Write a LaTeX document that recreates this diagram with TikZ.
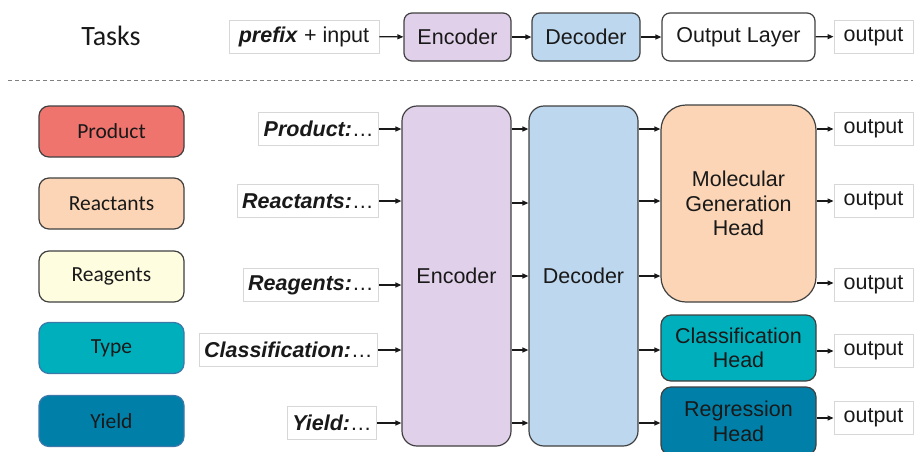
\documentclass[tikz,border=0pt]{standalone}
\usepackage{fontspec}
\setmainfont{Liberation Sans}
\newfontfamily\calib{Carlito}
\usetikzlibrary{arrows.meta,calc}

\definecolor{prodred}{RGB}{240,116,110}
\definecolor{peach}{RGB}{251,213,181}
\definecolor{paleyellow}{RGB}{255,253,224}
\definecolor{tealc}{RGB}{0,175,188}
\definecolor{deepteal}{RGB}{0,128,168}
\definecolor{lavender}{RGB}{225,208,234}
\definecolor{skyblue}{RGB}{189,215,238}
\definecolor{edgegray}{RGB}{64,64,64}
\definecolor{bluedge}{RGB}{60,120,170}
\definecolor{lightedge}{RGB}{215,215,215}

\tikzset{
  x=1pt, y=-1pt,
  txt/.style={font=\fontsize{21.5}{24.5}\selectfont, text=black!90},
  block/.style={txt, draw=edgegray, line width=1.2pt, align=center, inner sep=0pt},
  tagbox/.style={txt, draw=lightedge, line width=0.9pt, fill=white, minimum height=33pt, inner xsep=5pt, inner ysep=0pt},
  taskbox/.style={draw=edgegray, line width=1.2pt, rounded corners=10pt, minimum width=145pt, minimum height=51pt, inner sep=0pt,
    font=\calib\fontsize{21.5}{24}\selectfont, text=black!90},
  arr/.style={line width=1.2pt, draw=black!90, -{Triangle[length=6pt,width=5pt]}},
}

\begin{document}
\begin{tikzpicture}
\clip (0,0) rectangle (919,451);
\useasboundingbox (0,0) rectangle (919,451);

% ---- general pipeline ----
\node[font=\calib\fontsize{28}{30}\selectfont, text=black!90] (tasks) at (111,36) {Tasks};
\node[tagbox, minimum width=150pt, inner xsep=0pt] (tin) at (304,36.5) {\textbf{\textit{prefix}} + input};
\node[block, rounded corners=8pt, fill=lavender, minimum width=107pt, minimum height=48pt] (tenc) at (457.5,37) {Encoder};
\node[block, rounded corners=8pt, fill=skyblue, minimum width=108pt, minimum height=48pt] (tdec) at (586,37) {Decoder};
\node[block, rounded corners=8pt, fill=white, minimum width=153pt, minimum height=48pt] (tlay) at (738.5,37) {Output Layer};
\node[tagbox, minimum width=79pt, inner xsep=0pt] (tout) at (873.5,36.5) {output};

\draw[arr] (tin) -- (tenc);
\draw[arr] (tenc) -- (tdec);
\draw[arr] (tdec) -- (tlay);
\draw[arr] (tlay) -- (tout);

% separator
\coordinate (sepL) at (8,80);
\coordinate (sepR) at (913,80);
\draw[black!50, line width=1pt, dash pattern=on 4pt off 3pt] (sepL) -- (sepR);

% ---- task legend ----
\node[taskbox, fill=prodred] (kprod) at (111.5,131.5) {Product};
\node[taskbox, fill=peach] (kreac) at (111.5,203.5) {Reactants};
\node[taskbox, fill=paleyellow] (kreag) at (111.5,276.5) {Reagents};
\node[taskbox, fill=tealc, draw=bluedge] (ktype) at (111.5,348) {Type};
\node[taskbox, fill=deepteal, draw=bluedge] (kyield) at (111.5,421) {Yield};

% ---- prefixed inputs ----
\node[tagbox, anchor=east] (p1) at (379,129) {\textbf{\textit{Product:}}\ldots};
\node[tagbox, anchor=east] (p2) at (379,201) {\textbf{\textit{Reactants:}}\ldots};
\node[tagbox, anchor=east] (p3) at (379,285) {\textbf{\textit{Reagents:}}\ldots};
\node[tagbox, anchor=east] (p4) at (378,350) {\textbf{\textit{Classification:}}\ldots};
\node[tagbox, anchor=east] (p5) at (377,423) {\textbf{\textit{Yield:}}\ldots};

% ---- shared encoder / decoder ----
\node[block, rounded corners=15pt, fill=lavender, minimum width=109pt, minimum height=340pt] (enc) at (456.5,276) {Encoder};
\node[block, rounded corners=15pt, fill=skyblue, minimum width=109pt, minimum height=340pt] (dec) at (583.5,276) {Decoder};

% ---- task heads ----
\node[block, rounded corners=25pt, fill=peach, minimum width=155pt, minimum height=197pt] (mgh) at (738.5,203.5) {Molecular\\Generation\\Head};
\node[block, rounded corners=10pt, fill=tealc, minimum width=155pt, minimum height=66pt] (cls) at (738.5,348) {Classification\\Head};
\node[block, rounded corners=10pt, fill=deepteal, minimum width=155pt, minimum height=68pt, text depth=0pt] (reg) at (738.5,421) {Regression\\Head};

% ---- outputs ----
\node[tagbox, minimum width=79pt, inner xsep=0pt] (o1) at (873.5,129) {output};
\node[tagbox, minimum width=79pt, inner xsep=0pt] (o2) at (873.5,201) {output};
\node[tagbox, minimum width=79pt, inner xsep=0pt] (o3) at (873.5,285) {output};
\node[tagbox, minimum width=79pt, inner xsep=0pt] (o4) at (873.5,351) {output};
\node[tagbox, minimum width=79pt, inner xsep=0pt] (o5) at (873.5,418) {output};

% inputs -> encoder
\foreach \p in {p1,p2,p3,p4,p5}
  \draw[arr] (\p.east) -- (\p.east -| enc.west);

% encoder -> decoder
\draw[arr] (enc.east |- p1) -- (dec.west |- p1);
\draw[arr] ($(enc.east |- p2)+(0,2)$) -- ($(dec.west |- p2)+(0,2)$);
\draw[arr] (enc.east) -- (dec.west);
\draw[arr] (enc.east |- p4) -- (dec.west |- p4);
\draw[arr] (enc.east |- p5) -- (dec.west |- p5);

% decoder -> heads
\draw[arr] (dec.east |- p1) -- (mgh.west |- p1);
\draw[arr] (dec.east |- p2) -- (mgh.west |- p2);
\draw[arr] (dec.east) -- (mgh.west |- dec.east);
\draw[arr] (dec.east |- p4) -- (cls.west |- p4);
\draw[arr] (dec.east |- p5) -- (reg.west |- p5);

% heads -> outputs
\draw[arr] (mgh.east |- o1) -- (o1.west);
\draw[arr] (mgh.east |- o2) -- (o2.west);
\draw[arr] ($(mgh.east |- o3)+(0,-2)$) -- ($(o3.west)+(0,-2)$);
\draw[arr] (cls.east |- o4) -- (o4.west);
\draw[arr] (reg.east |- o5) -- (o5.west);
\end{tikzpicture}
\end{document}
